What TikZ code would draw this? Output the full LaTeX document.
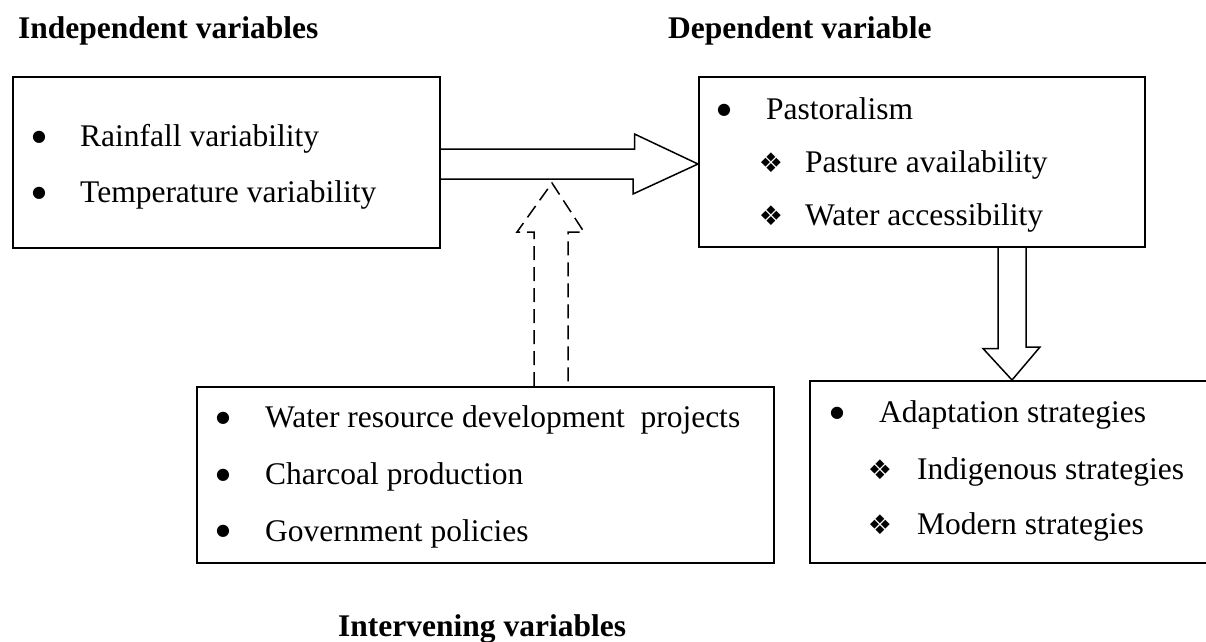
\documentclass[tikz,border=0pt]{standalone}
\usepackage{fontspec}
\setmainfont{Liberation Serif}
\newfontfamily\symfont{DejaVu Sans}
\usetikzlibrary{calc}
\begin{document}
\begin{tikzpicture}[x=1pt,y=-1pt,
  boxst/.style={draw, line width=1.5pt, inner sep=0pt, anchor=north west},
  txt/.style={inner sep=0pt, anchor=base west, font=\fontsize{31.5}{36}\selectfont},
  hdr/.style={inner sep=0pt, anchor=base west, font=\fontsize{31.5}{36}\selectfont\bfseries},
  bul/.style={inner sep=0pt, anchor=center, font=\symfont\fontsize{16}{18}\selectfont},
  orn/.style={inner sep=0pt, anchor=center, font=\symfont\fontsize{27}{30}\selectfont},
  blockarrow/.style={draw, line width=1.5pt, line join=miter},
  dasharrow/.style={blockarrow, dash pattern=on 14pt off 7pt}]
\clip (0,0) rectangle (1206,641);
\fill[white] (0,0) rectangle (1206,641);

% headers
\node[hdr] (hIndep) at (18,38) {Independent variables};
\node[hdr] (hDep) at (668,38) {Dependent variable};
\node[hdr] (hInterv) at (338,636) {Intervening variables};

% boxes
\node[boxst, minimum width=427pt, minimum height=171pt] (indep) at (12,76) {};
\node[boxst, minimum width=446pt, minimum height=170pt] (pasto) at (698,76) {};
\node[boxst, minimum width=577pt, minimum height=176pt] (interv) at (196,386) {};
\node[boxst, minimum width=500pt, minimum height=182pt] (adapt) at (809,380) {};

% independent box text
\node[bul] (b1) at (39,137) {●};
\node[txt] (t1) at (80,146) {Rainfall variability};
\node[bul] (b2) at (39,193) {●};
\node[txt] (t2) at (80,202) {Temperature variability};

% dependent box text
\node[bul] (b3) at (724,110) {●};
\node[txt] (t3) at (766,119) {Pastoralism};
\node[orn] (o1) at (771,163) {❖};
\node[txt] (t4) at (805,172) {Pasture availability};
\node[orn] (o2) at (771,216) {❖};
\node[txt] (t5) at (805,225) {Water accessibility};

% intervening box text
\node[bul] (b4) at (223,418) {●};
\node[txt] (t6) at (265,427) {Water resource development\ \ projects};
\node[bul] (b5) at (223,475) {●};
\node[txt] (t7) at (265,484) {Charcoal production};
\node[bul] (b6) at (223,531) {●};
\node[txt] (t8) at (265,541) {Government policies};

% adaptation box text
\node[bul] (b7) at (837,413) {●};
\node[txt] (t9) at (879,422) {Adaptation strategies};
\node[orn] (o3) at (880,470) {❖};
\node[txt] (t10) at (917,479) {Indigenous strategies};
\node[orn] (o4) at (880,525) {❖};
\node[txt] (t11) at (917,534) {Modern strategies};

% right block arrow
\coordinate (rt) at ($(pasto.north west)+(0,88)$);
\draw[blockarrow] ($(indep.north east)+(0,73)$) -- ++(194,0) -- ++(0,-15) -- (rt)
  -- ($(rt)+(-65,30)$) -- ++(0,-15) -- ($(indep.north east)+(0,103)$);

% dashed up arrow
\coordinate (dt) at (552,183);
\draw[dasharrow] ($(interv.north west)+(338,0)$) -- ++(0,-154) -- ++(-17,0) -- (dt)
  -- ++(32,49) -- ++(-16,0) -- ($(interv.north west)+(372,0)$);

% down block arrow
\draw[blockarrow] ($(pasto.south west)+(300,0)$) -- ++(0,101) -- ++(-15,0)
  -- ($(adapt.north west)+(203,0)$) -- ++(28,-33) -- ++(-14,0) -- ($(pasto.south west)+(328,0)$);
\end{tikzpicture}
\end{document}
